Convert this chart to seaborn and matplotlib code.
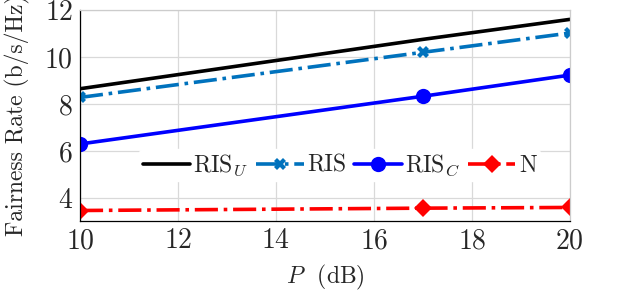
import matplotlib
matplotlib.use("Agg")
import matplotlib.pyplot as plt
import pandas as pd
import seaborn as sns

# values
p_db = [10, 17, 20]
ris_u = [8.65, 10.75, 11.6]
ris = [8.28, 10.2, 11.02]
ris_c = [6.3, 8.33, 9.23]
n_base = [3.47, 3.57, 3.6]

labels = ['RIS$_U$', 'RIS', 'RIS$_C$', 'N']
colors = ['black', '#0072BD', '#0000FF', '#FF0000']
styles = ['-', '-.', '-', '-.']
markers = [None, 'X', 'o', 'D']
msizes = [0, 9, 11, 9]

sns.set_style("whitegrid")
plt.rcParams['font.family'] = ['cmr10', 'DejaVu Serif']
plt.rcParams['mathtext.fontset'] = 'cm'
plt.rcParams['axes.formatter.use_mathtext'] = True
plt.rcParams['axes.unicode_minus'] = False

fig = plt.figure(figsize=(6.2, 2.94), dpi=100)
ax = fig.add_axes([0.129, 0.248, 0.79, 0.718])

for vals, lab, c, ls, m, ms in zip([ris_u, ris, ris_c, n_base], labels, colors, styles, markers, msizes):
    df = pd.DataFrame({'P': p_db, 'rate': vals})
    sns.lineplot(data=df, x='P', y='rate', ax=ax, color=c, linestyle=ls, lw=2.6,
                 marker=m, markersize=ms, markeredgewidth=0, label=lab)

ax.set_xlim(10, 20)
ax.set_ylim(3.02, 12)
ax.set_xticks([10, 12, 14, 16, 18, 20])
ax.set_yticks([4, 6, 8, 10, 12])
ax.grid(True, color='#d9d9d9', lw=0.9)
for s in ax.spines.values():
    s.set_color('#cccccc')
    s.set_linewidth(0.9)
ax.spines['left'].set_color('black')
ax.spines['bottom'].set_color('black')
ax.tick_params(labelsize=20, length=0, pad=5)
ax.set_xlabel('$P$  (dB)', fontsize=17, labelpad=6)
ax.set_ylabel('Fairness Rate (b/s/Hz)', fontsize=17, labelpad=10)

ax.legend(loc='center', bbox_to_anchor=(0.53, 0.265), ncol=4, frameon=True,
          framealpha=1, edgecolor='white', fontsize=17, handlelength=2.0,
          handletextpad=0.15, columnspacing=0.35, borderpad=0.15)

fig.savefig('out.png', dpi=100)
